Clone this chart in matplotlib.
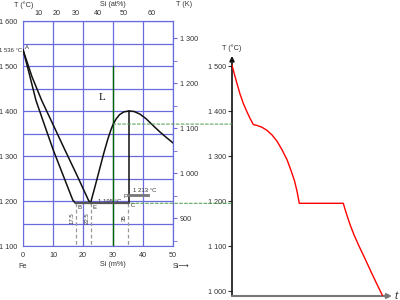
import numpy as np
import matplotlib
matplotlib.use('Agg')
import matplotlib.pyplot as plt
from matplotlib.patches import ConnectionPatch

plt.rcParams['font.family'] = ['Liberation Sans', 'DejaVu Sans']

# ---- data: Fe-Si diagram (Si in mass %, T in degC) ----
solidus_si = [0, 2, 4.3, 7, 10.1, 13.5, 16.6, 17.5]
solidus_t = [1536, 1485, 1424, 1372, 1313, 1255, 1202, 1195]
liq_left_si = [0, 3, 6.2, 10, 14, 18, 21.8, 22.5]
liq_left_t = [1536, 1476, 1424, 1370, 1313, 1257, 1202, 1195]
liq_right_si = [22.5, 24, 25.5, 27, 28.3, 29.3, 30, 31, 32.2, 33.6, 35.3, 37, 39, 41, 43, 45.7, 48, 50]
liq_right_t = [1195, 1232, 1270, 1308, 1338, 1358, 1370, 1382, 1392, 1398, 1400, 1399, 1393, 1383, 1370, 1353, 1340, 1329]
T_A = 1536
T_EUT = 1195
T_F = 1213
SI_B, SI_E, SI_C = 17.5, 22.5, 35.0
SI_PEAK, T_PEAK = 35.3, 1400
SI_ALLOY = 30
T_ALLOY = 1371

# ---- data: cooling curve (arbitrary time, T in degC) ----
cool_t = [0, 2.5, 5, 8, 11.3, 15, 18, 21.3, 25, 30, 35, 40, 45, 50, 55, 59, 62.5, 65, 67.3,
          111.3, 113, 115, 118, 122, 127, 133, 139, 145, 150.7]
cool_T = [1502, 1481, 1461, 1438, 1417, 1398, 1384, 1370, 1368, 1364, 1357, 1347, 1333, 1314, 1292, 1268, 1245, 1222, 1195,
          1195, 1182, 1168, 1148, 1125, 1100, 1072, 1043, 1015, 989]

at_ticks = [10, 20, 30, 40, 50, 60]
k_ticks = [900, 1000, 1100, 1200, 1300]
K_OFFSET = 261.5

BLUE = '#6a6ae0'
TXT = '#333333'
FS = 5.2


def fmt(v):
    v = int(round(v))
    return f"{v // 1000} {v % 1000:03d}" if v >= 1000 else str(v)


M_SI, M_FE = 28.086, 55.845


def m2a(w):
    w = np.asarray(w, dtype=float)
    a = w / M_SI
    b = (100 - w) / M_FE
    return 100 * a / (a + b)


def a2m(x):
    x = np.asarray(x, dtype=float)
    a = x * M_SI
    b = (100 - x) * M_FE
    return 100 * a / (a + b)


fig = plt.figure(figsize=(4, 3), dpi=100)
ax = fig.add_axes([23 / 400, 1 - 246 / 300, 150 / 400, 225 / 300])
ax.set_xlim(0, 50)
ax.set_ylim(1100, 1600)

for x in range(0, 51, 10):
    ax.axvline(x, color=BLUE, lw=0.9, zorder=1)
for y in range(1100, 1601, 50):
    ax.axhline(y, color=BLUE, lw=0.9, zorder=1)
for s in ax.spines.values():
    s.set_color(BLUE)

ax.set_xticks(range(0, 51, 10))
ax.set_yticks(range(1100, 1601, 100))
ax.set_yticklabels([fmt(v) for v in range(1100, 1601, 100)])
ax.tick_params(length=0, labelsize=FS, colors=TXT)
ax.tick_params(axis='y', pad=4)
ax.tick_params(axis='x', pad=4)

# top axis in atomic %
top = ax.secondary_xaxis('top', functions=(m2a, a2m))
top.set_xticks(at_ticks)
top.tick_params(length=0, labelsize=FS, colors=TXT, pad=3)
top.spines['top'].set_color(BLUE)

# right axis (K)
rk = ax.secondary_yaxis('right', functions=(lambda c: c - K_OFFSET, lambda k: k + K_OFFSET))
rk.set_yticks(k_ticks)
rk.set_yticks([850, 950, 1050, 1150, 1250], minor=True)
rk.set_yticklabels([fmt(v) for v in k_ticks])
rk.tick_params(which='both', length=3, color=BLUE, labelsize=FS, labelcolor=TXT, pad=2)
rk.spines['right'].set_color(BLUE)

# diagram lines
ax.plot(solidus_si, solidus_t, color='#111111', lw=1.1, zorder=4)
ax.plot(liq_left_si, liq_left_t, color='#111111', lw=1.1, zorder=4)
ax.plot(liq_right_si, liq_right_t, color='#111111', lw=1.1, zorder=4)
ax.plot([SI_PEAK, SI_PEAK], [T_PEAK, T_EUT], color='#111111', lw=1.1, zorder=4)
ax.plot([SI_B, SI_C], [T_EUT, T_EUT], color='#555555', lw=1.6, zorder=4)
ax.plot([SI_C, 41.7], [T_F, T_F], color='#777777', lw=2, zorder=4)
ax.plot([SI_ALLOY, SI_ALLOY], [1500, 1100], color='#006400', lw=1.0, zorder=3)
for x in (SI_B, SI_E, SI_C):
    ax.plot([x, x], [T_EUT, 1100], color='#999999', lw=0.9, ls=(0, (3, 2)), zorder=2)

tk = dict(color=TXT, fontsize=4.3)
ax.text(-0.3, T_A - 2, fmt(T_A) + " °C", ha='right', va='center', **tk)
ax.text(0.6, T_A + 6, "A", ha='left', va='center', **tk)
ax.text(SI_B + 0.8, T_EUT - 10, "B", ha='left', va='center', **tk)
ax.text(SI_E + 0.8, T_EUT - 10, "E", ha='left', va='center', **tk)
ax.text(SI_C + 0.8, T_EUT - 5, "C", ha='left', va='center', **tk)
ax.text(SI_C - 0.3, T_F - 2, "F", ha='right', va='center', **tk)
ax.text(29, T_EUT + 5, fmt(T_EUT) + " °C", ha='center', va='center', **tk)
ax.text(40.5, T_F + 10, fmt(T_F) + " °C", ha='center', va='center', **tk)
for x, lab in ((SI_B, "17.5"), (SI_E, "22.5"), (SI_C, "35")):
    ax.text(x - 1.2, 1162, lab, rotation=90, ha='center', va='center', **tk)
ax.text(26.5, 1431, "L", fontsize=8, family='Liberation Serif', color='#111111',
        ha='center', va='center')

fig.text(24 / 400, 1 - 5 / 300, "T (°C)", fontsize=FS, color=TXT, ha='center', va='center')
fig.text(113 / 400, 1 - 5 / 300, "Si (at%)", fontsize=FS, color=TXT, ha='center', va='center')
fig.text(184 / 400, 1 - 5 / 300, "T (K)", fontsize=FS, color=TXT, ha='center', va='center')
fig.text(23 / 400, 1 - 266 / 300, "Fe", fontsize=FS, color=TXT, ha='center', va='center')
fig.text(113 / 400, 1 - 265 / 300, "Si (m%)", fontsize=FS, color=TXT, ha='center', va='center')
fig.text(181 / 400, 1 - 266 / 300, "Si⟶", fontsize=FS, color=TXT, ha='center', va='center')

# ---- cooling curve ----
ax2 = fig.add_axes([232 / 400, 1 - 296 / 300, 160 / 400, 240 / 300])
ax2.set_xlim(0, 160)
ax2.set_ylim(989, 989 + 240 / 0.45)
ax2.patch.set_alpha(0)
for s in ax2.spines.values():
    s.set_visible(False)
ax2.set_xticks([])
ax2.set_yticks(range(1000, 1501, 100))
ax2.set_yticklabels([fmt(v) for v in range(1000, 1501, 100)])
ax2.tick_params(axis='y', length=3, color='#333333', labelsize=FS, colors=TXT, pad=1)
ax2.annotate('', xy=(0, 1.0), xytext=(0, 0), xycoords='axes fraction',
             arrowprops=dict(arrowstyle='-|>', color='#111111', lw=1.2,
                             mutation_scale=7, shrinkA=0, shrinkB=0))
ax2.annotate('', xy=(1.0, 0), xytext=(0, 0), xycoords='axes fraction',
             arrowprops=dict(arrowstyle='-|>', color='#777777', lw=1.5,
                             mutation_scale=7, shrinkA=0, shrinkB=0))
ax2.plot(cool_t, cool_T, color='#ff0000', lw=1.0, zorder=5)
fig.text(232 / 400, 1 - 48 / 300, "T (°C)", fontsize=FS, color=TXT, ha='center', va='center')
fig.text(396 / 400, 1 - 296 / 300, "t", fontsize=8, style='italic', color=TXT,
         ha='center', va='center')

# guide lines linking the two plots
for x0, y0 in ((SI_ALLOY, T_ALLOY), (36, T_EUT)):
    con = ConnectionPatch(xyA=(x0, y0), coordsA=ax.transData,
                          xyB=(0, y0), coordsB=ax2.transData,
                          color='#4a9a4a', lw=0.7, ls=(0, (3, 2)), zorder=6)
    fig.add_artist(con)

fig.savefig('out.png', dpi=100)
